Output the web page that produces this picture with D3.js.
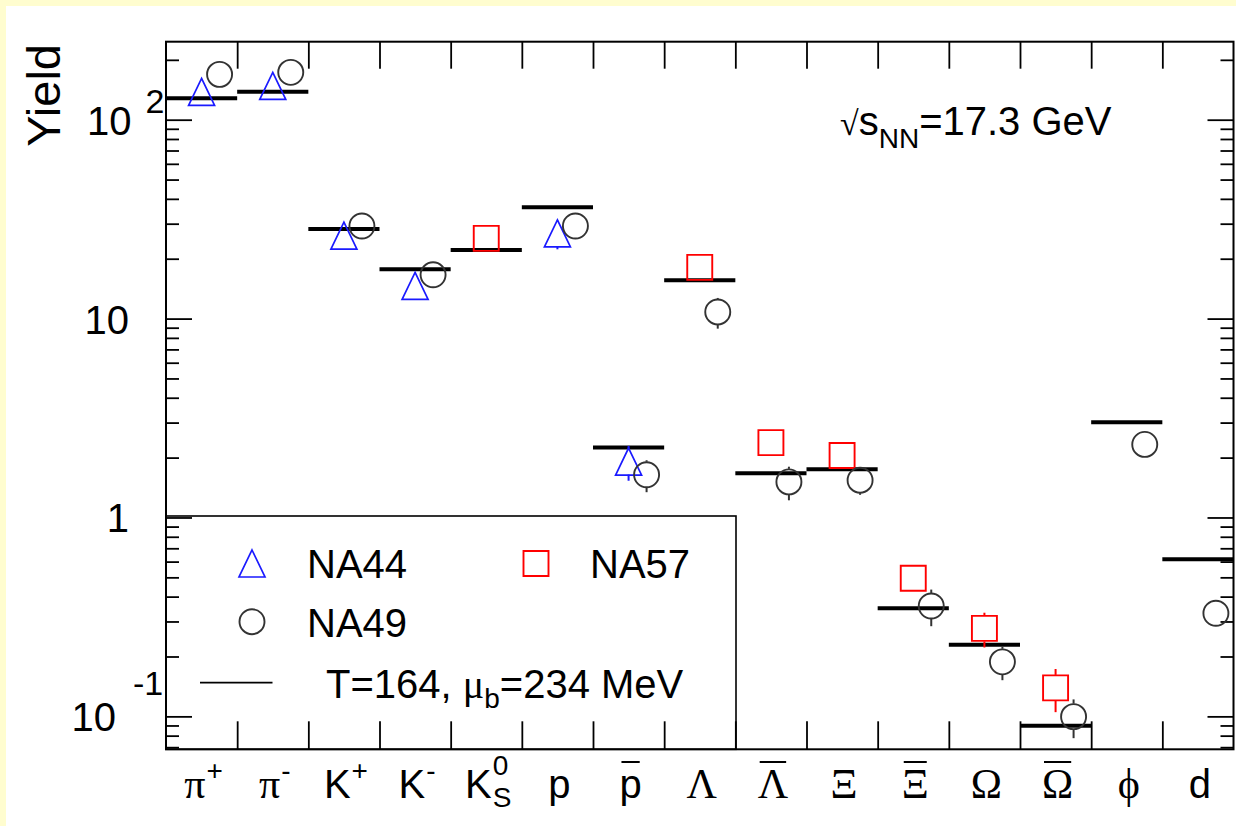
<!DOCTYPE html>
<html>
<head>
<meta charset="utf-8">
<script src="https://cdn.jsdelivr.net/npm/d3@7"></script>
<style>
  body { margin: 0; background: #fffdcf; }
  svg { display: block; font-family: "Liberation Sans", Arial, sans-serif; }
  text { fill: #000; }
</style>
</head>
<body>
<div id="chart"></div>
<script>
// particle species along the x axis
const categories = ['pi+', 'pi-', 'K+', 'K-', 'K0S', 'p', 'pbar', 'Lambda', 'Lambdabar',
                    'Xi', 'Xibar', 'Omega', 'Omegabar', 'phi', 'd'];
const labelBase = ['π', 'π', 'K', 'K', 'K', 'p', 'p', 'Λ', 'Λ', 'Ξ', 'Ξ', 'Ω', 'Ω', 'ϕ', 'd'];
const labelSup  = ['+', '-', '+', '-', '0', '', '', '', '', '', '', '', '', '', ''];
const labelSub  = ['', '', '', '', 'S', '', '', '', '', '', '', '', '', '', ''];
const labelBar  = [0, 0, 0, 0, 0, 0, 1, 0, 1, 0, 1, 0, 1, 0, 0];

// thermal model, T=164, mu_b=234 MeV
const modelYield = [128.2, 138.3, 28.2, 17.7, 22.1, 36.3, 2.25, 15.6, 1.67, 1.75, 0.350, 0.229, 0.0898, 3.01, 0.616];

// NA44
const na44Cat = ['pi+', 'pi-', 'K+', 'K-', 'p', 'pbar'];
const na44Val = [138, 148, 26.1, 14.6, 26.8, 1.91];
const na44Err = [0, 0, 0, 0, 4.5, 0.38];

// NA49
const na49Cat = ['pi+', 'pi-', 'K+', 'K-', 'p', 'pbar', 'Lambda', 'Lambdabar', 'Xi', 'Xibar', 'Omega', 'Omegabar', 'phi', 'd'];
const na49Val = [169, 173, 29.2, 16.6, 29.2, 1.64, 10.8, 1.51, 1.54, 0.359, 0.188, 0.0997, 2.33, 0.330];
const na49Err = [0, 0, 0, 0, 0, 0.30, 1.9, 0.29, 0.24, 0.075, 0.036, 0.022, 0, 0];

// NA57
const na57Cat = ['K0S', 'Lambda', 'Lambdabar', 'Xi', 'Xibar', 'Omega', 'Omegabar'];
const na57Val = [25.3, 18.1, 2.38, 2.05, 0.495, 0.277, 0.139];
const na57Err = [0, 0, 0, 0, 0.04, 0.055, 0.034];

// y tick labels
const yMajor = [0.1, 1, 10, 100];
const yTickText = ['10', '1', '10', '10'];
const yTickSup = ['-1', '', '', '2'];

const W = 1236, H = 826;
const plot = {left: 166, right: 1233.5, top: 41.7, bottom: 749.3};
const sans = '"Liberation Sans", Arial, sans-serif';
const serif = '"Liberation Serif", "DejaVu Serif", "Times New Roman", serif';
const greek = 'πΛΞΩϕ';

const svg = d3.select('#chart').append('svg')
    .attr('width', W)
    .attr('height', H);

svg.append('rect')
    .attr('x', 6).attr('y', 6)
    .attr('width', W - 6).attr('height', H - 6)
    .attr('fill', '#fff');

// scales
const x = d3.scaleBand().domain(categories).range([plot.left, plot.right]);
const xEdge = d3.scaleLinear().domain([0, categories.length]).range([plot.left, plot.right]);
const y = d3.scaleLog().domain([0.0683, 246.7]).range([plot.bottom, plot.top]);
const cx = c => x(c) + x.bandwidth() / 2;

const yMinor = [];
for (let e = -2; e <= 2; e++) {
    for (let m = 2; m <= 9; m++) {
        const v = m * Math.pow(10, e);
        if (v > 0.0683 && v < 246.7) yMinor.push(v);
    }
}

// axes (ticks point inward, ROOT style)
const styleAxis = g => {
    g.select('.domain').remove();
    g.selectAll('.tick line').attr('stroke', '#000').attr('stroke-width', 1.8);
};
svg.append('g').attr('transform', `translate(0,${plot.bottom})`)
    .call(d3.axisBottom(xEdge).tickValues(d3.range(1, 15)).tickSize(-28).tickFormat(''))
    .call(styleAxis);
svg.append('g').attr('transform', `translate(0,${plot.top})`)
    .call(d3.axisTop(xEdge).tickValues(d3.range(1, 15)).tickSize(-27).tickFormat(''))
    .call(styleAxis);
svg.append('g').attr('transform', `translate(${plot.left},0)`)
    .call(d3.axisLeft(y).tickValues(yMajor).tickSize(-26).tickFormat(''))
    .call(styleAxis);
svg.append('g').attr('transform', `translate(${plot.left},0)`)
    .call(d3.axisLeft(y).tickValues(yMinor).tickSize(-13).tickFormat(''))
    .call(styleAxis);
svg.append('g').attr('transform', `translate(${plot.right},0)`)
    .call(d3.axisRight(y).tickValues(yMajor).tickSize(-26).tickFormat(''))
    .call(styleAxis);
svg.append('g').attr('transform', `translate(${plot.right},0)`)
    .call(d3.axisRight(y).tickValues(yMinor).tickSize(-13).tickFormat(''))
    .call(styleAxis);

svg.append('rect')
    .attr('x', plot.left).attr('y', plot.top)
    .attr('width', plot.right - plot.left).attr('height', plot.bottom - plot.top)
    .attr('fill', 'none').attr('stroke', '#000').attr('stroke-width', 2);

// y tick labels
yMajor.forEach((v, i) => {
    const t = svg.append('text')
        .attr('font-size', 40)
        .attr('x', yTickSup[i] === '-1' ? 71.5 : (yTickSup[i] ? 87 : 129))
        .attr('y', y(v) + 15)
        .attr('text-anchor', yTickSup[i] ? 'start' : 'end')
        .text(yTickText[i]);
    if (yTickSup[i]) {
        t.append('tspan')
            .attr('font-size', 34)
            .attr('dx', yTickSup[i] === '-1' ? 17 : 14)
            .attr('dy', yTickSup[i] === '-1' ? -36 : -22)
            .text(yTickSup[i]);
    }
});

svg.append('text')
    .attr('transform', `translate(60,44) rotate(-90)`)
    .attr('text-anchor', 'end')
    .attr('font-size', 47)
    .text('Yield');

// x labels
const xLabels = svg.append('g');
categories.forEach((c, i) => {
    const g = xLabels.append('g');
    const isGreek = greek.includes(labelBase[i]);
    const base = g.append('text')
        .attr('x', 0).attr('y', 0)
        .attr('font-size', isGreek ? 42 : 40)
        .style('font-family', isGreek ? serif : sans)
        .text(labelBase[i]);
    const bw = base.node().getComputedTextLength();
    let w = bw;
    if (labelSup[i]) {
        const s = g.append('text')
            .attr('x', bw + 1).attr('y', labelSub[i] ? -23 : -18)
            .attr('font-size', 28)
            .text(labelSup[i]);
        w = Math.max(w, bw + 1 + s.node().getComputedTextLength());
    }
    if (labelSub[i]) {
        const s = g.append('text')
            .attr('x', bw + 1).attr('y', 9)
            .attr('font-size', 28)
            .text(labelSub[i]);
        w = Math.max(w, bw + 1 + s.node().getComputedTextLength());
    }
    if (labelBar[i]) {
        g.append('line')
            .attr('x1', 2).attr('x2', bw - 2)
            .attr('y1', -36).attr('y2', -36)
            .attr('stroke', '#000').attr('stroke-width', 2);
    }
    g.attr('transform', `translate(${cx(c) - w / 2 + 2},798)`);
});

// thermal model lines
svg.append('g').selectAll('line')
    .data(categories)
    .join('line')
    .attr('x1', c => x(c))
    .attr('x2', c => x(c) + x.bandwidth())
    .attr('y1', (c, i) => y(modelYield[i]))
    .attr('y2', (c, i) => y(modelYield[i]))
    .attr('stroke', '#000')
    .attr('stroke-width', 4);

// markers
const half = 13;
const triPath = 'M0,-13.5L13,13.5L-13,13.5Z';
const sqPath = 'M-12.5,-12.5H12.5V12.5H-12.5Z';
const circPath = d3.symbol().type(d3.symbolCircle).size(Math.PI * 12.5 * 12.5)();

function drawSeries(cats, vals, errs, path, color, dx, sw) {
    const g = svg.append('g');
    cats.forEach((c, i) => {
        const px = cx(c) + dx;
        const py = y(vals[i]);
        if (errs[i] > 0) {
            const yt = y(vals[i] + errs[i]);
            const yb = y(vals[i] - errs[i]);
            if (py - half > yt) {
                g.append('line').attr('x1', px).attr('x2', px).attr('y1', yt).attr('y2', py - half)
                    .attr('stroke', color).attr('stroke-width', 2);
            }
            if (yb > py + half) {
                g.append('line').attr('x1', px).attr('x2', px).attr('y1', py + half).attr('y2', yb)
                    .attr('stroke', color).attr('stroke-width', 2);
            }
        }
        g.append('path')
            .attr('d', path)
            .attr('transform', `translate(${px},${py})`)
            .attr('fill', 'none')
            .attr('stroke', color)
            .attr('stroke-width', sw);
    });
}
drawSeries(na44Cat, na44Val, na44Err, triPath, '#1a1aff', 0, 1.7);
drawSeries(na57Cat, na57Val, na57Err, sqPath, '#ff0000', 0, 1.9);
drawSeries(na49Cat, na49Val, na49Err, circPath, '#333', 18, 1.9);

// energy label
const eLabel = svg.append('text')
    .attr('x', 840).attr('y', 135)
    .attr('font-size', 40);
eLabel.append('tspan').style('font-family', serif).attr('font-size', 34).text('√');
eLabel.append('tspan').text('s');
eLabel.append('tspan').attr('font-size', 28).attr('dy', 13).text('NN');
eLabel.append('tspan').attr('dy', -13).text('=17.3 GeV');

// legend
svg.append('rect')
    .attr('x', plot.left).attr('y', 516)
    .attr('width', 736 - plot.left).attr('height', plot.bottom - 516)
    .attr('fill', 'none').attr('stroke', '#000').attr('stroke-width', 1.6);

svg.append('path').attr('d', triPath).attr('transform', 'translate(252,563.5)')
    .attr('fill', 'none').attr('stroke', '#1a1aff').attr('stroke-width', 1.7);
svg.append('path').attr('d', sqPath).attr('transform', 'translate(536,563.5)')
    .attr('fill', 'none').attr('stroke', '#ff0000').attr('stroke-width', 1.9);
svg.append('path').attr('d', circPath).attr('transform', 'translate(252,621.7)')
    .attr('fill', 'none').attr('stroke', '#333').attr('stroke-width', 1.9);
svg.append('line')
    .attr('x1', 200).attr('x2', 272.5).attr('y1', 682.7).attr('y2', 682.7)
    .attr('stroke', '#000').attr('stroke-width', 1.8);

svg.append('text').attr('x', 307).attr('y', 578).attr('font-size', 40).text('NA44');
svg.append('text').attr('x', 590).attr('y', 578).attr('font-size', 40).text('NA57');
svg.append('text').attr('x', 307).attr('y', 636.7).attr('font-size', 40).text('NA49');
const tLabel = svg.append('text').attr('x', 326).attr('y', 698).attr('font-size', 40);
tLabel.append('tspan').text('T=164, ');
tLabel.append('tspan').style('font-family', serif).text('μ');
tLabel.append('tspan').attr('font-size', 28).attr('dy', 10).text('b');
tLabel.append('tspan').attr('dy', -10).text('=234 MeV');
</script>
</body>
</html>
